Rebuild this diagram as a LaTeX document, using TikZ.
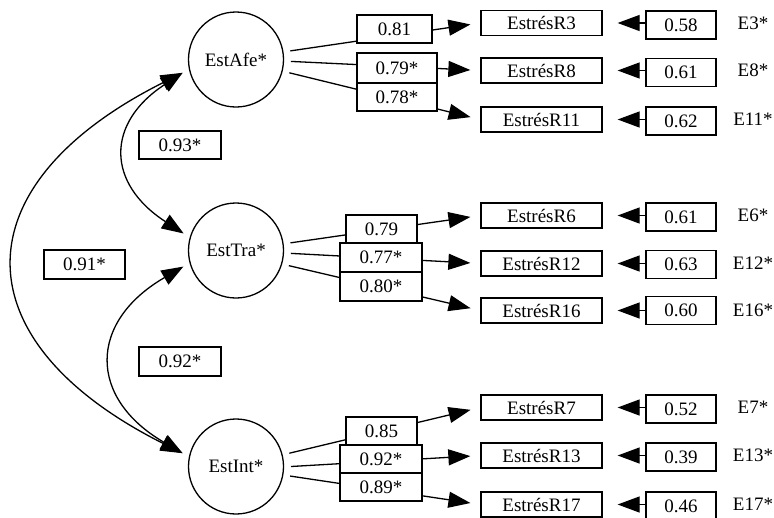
\documentclass[tikz,border=0pt]{standalone}
\usepackage{fontspec}
\setmainfont{Liberation Serif}
\usetikzlibrary{arrows.meta}
\begin{document}
\begin{tikzpicture}[x=1pt,y=-1pt,
  every node/.style={font=\fontsize{19}{22}\selectfont},
  lat/.style={draw, circle, line width=1.3pt, minimum size=95pt, inner sep=0pt, outer sep=7.5pt},
  ind/.style={draw, line width=1.3pt, minimum width=121pt, minimum height=25pt, inner sep=0pt},
  err/.style={draw, line width=1.3pt, minimum width=70pt, minimum height=28pt, inner sep=0pt},
  lab/.style={draw, fill=white, line width=1.3pt, inner sep=0pt},
  elab/.style={inner sep=0pt},
  conn/.style={line width=1.3pt, -{Triangle[length=22pt,width=16pt]}},
  cov/.style={line width=1.3pt, {Triangle[length=22pt,width=16pt]}-{Triangle[length=22pt,width=16pt]}},
]
\useasboundingbox (0,0) rectangle (774,517);

% latent factors
\node[lat] (EstAfe) at (236,59.5) {EstAfe*};
\node[lat] (EstTra) at (236,250.5) {EstTra*};
\node[lat] (EstInt) at (236,466.5) {EstInt*};

% indicators
\node[ind] (R3)  at (541.5,23)    {EstrésR3};
\node[ind] (R8)  at (541.5,70.5)  {EstrésR8};
\node[ind] (R11) at (541.5,119.5) {EstrésR11};
\node[ind] (R6)  at (541.5,215.5) {EstrésR6};
\node[ind] (R12) at (541.5,263.5) {EstrésR12};
\node[ind] (R16) at (541.5,310.5) {EstrésR16};
\node[ind] (R7)  at (541.5,407.5) {EstrésR7};
\node[ind] (R13) at (541.5,455.5) {EstrésR13};
\node[ind] (R17) at (541.5,504.5) {EstrésR17};

% error boxes
\node[err] (e3)  at (681,25)    {0.58};
\node[err] (e8)  at (681,72.5)  {0.61};
\node[err] (e11) at (681,121)   {0.62};
\node[err] (e6)  at (681,217)   {0.61};
\node[err] (e12) at (681,264.5) {0.63};
\node[err] (e16) at (681,310.5) {0.60};
\node[err] (e7)  at (681,409)   {0.52};
\node[err] (e13) at (681,457)   {0.39};
\node[err] (e17) at (681,506)   {0.46};

% error labels
\node[elab] (E3)  at (753,23)    {E3*};
\node[elab] (E8)  at (753,70.5)  {E8*};
\node[elab] (E11) at (753,119.5) {E11*};
\node[elab] (E6)  at (753,215.5) {E6*};
\node[elab] (E12) at (753,263.5) {E12*};
\node[elab] (E16) at (753,310.5) {E16*};
\node[elab] (E7)  at (753,407.5) {E7*};
\node[elab] (E13) at (753,455.5) {E13*};
\node[elab] (E17) at (753,504.5) {E17*};

% error arrows
\foreach \e/\r in {e3/R3,e8/R8,e11/R11,e6/R6,e12/R12,e16/R16,e7/R7,e13/R13,e17/R17}
  \draw[conn, shorten >=15pt] (\e.west |- \r.east) -- (\r.east);

% loadings
\draw[conn, shorten >=10pt] (EstAfe.9)   -- (R3.west);
\draw[conn, shorten >=10pt] (EstAfe.-2)  -- (R8.west);
\draw[conn, shorten >=10pt] (EstAfe.-14) -- (R11.west);
\draw[conn, shorten >=10pt] (EstTra.8)   -- (R6.west);
\draw[conn, shorten >=10pt] (EstTra.-3)  -- (R12.west);
\draw[conn, shorten >=10pt] (EstTra.-16) -- (R16.west);
\draw[conn, shorten >=10pt] (EstInt.14)  -- (R7.west);
\draw[conn, shorten >=10pt] (EstInt.0)   -- (R13.west);
\draw[conn, shorten >=10pt] (EstInt.-10) -- (R17.west);

\node[lab, minimum width=75pt, minimum height=28pt] (l3)  at (394.5,29)  {0.81};
\node[lab, minimum width=80pt, minimum height=30pt] (l8)  at (397,68)    {0.79*};
\node[lab, minimum width=80pt, minimum height=28pt] (l11) at (397,97)    {0.78*};
\node[lab, minimum width=71pt, minimum height=28pt] (l6)  at (381.5,229) {0.79};
\node[lab, minimum width=82pt, minimum height=29pt] (l12) at (381,257.5) {0.77*};
\node[lab, minimum width=82pt, minimum height=29pt] (l16) at (381,286.5) {0.80*};
\node[lab, minimum width=71pt, minimum height=28pt] (l7)  at (381.5,431) {0.85};
\node[lab, minimum width=82pt, minimum height=28pt] (l13) at (381,459)   {0.92*};
\node[lab, minimum width=82pt, minimum height=28pt] (l17) at (381,487)   {0.89*};

% covariances
\draw[cov] (EstAfe.194) .. controls (-41,185) and (-41,341) .. (EstInt.166);
\draw[cov] (EstAfe.194) .. controls (106,123) and (106,183) .. (EstTra.162);
\draw[cov] (EstTra.197) .. controls (88,322) and (88,398) .. (EstInt.166);

\node[lab, minimum width=82pt, minimum height=28pt] (c1) at (180,145)   {0.93*};
\node[lab, minimum width=81pt, minimum height=29pt] (c2) at (84.5,264.5) {0.91*};
\node[lab, minimum width=82pt, minimum height=29pt] (c3) at (180,361.5) {0.92*};
\end{tikzpicture}
\end{document}
